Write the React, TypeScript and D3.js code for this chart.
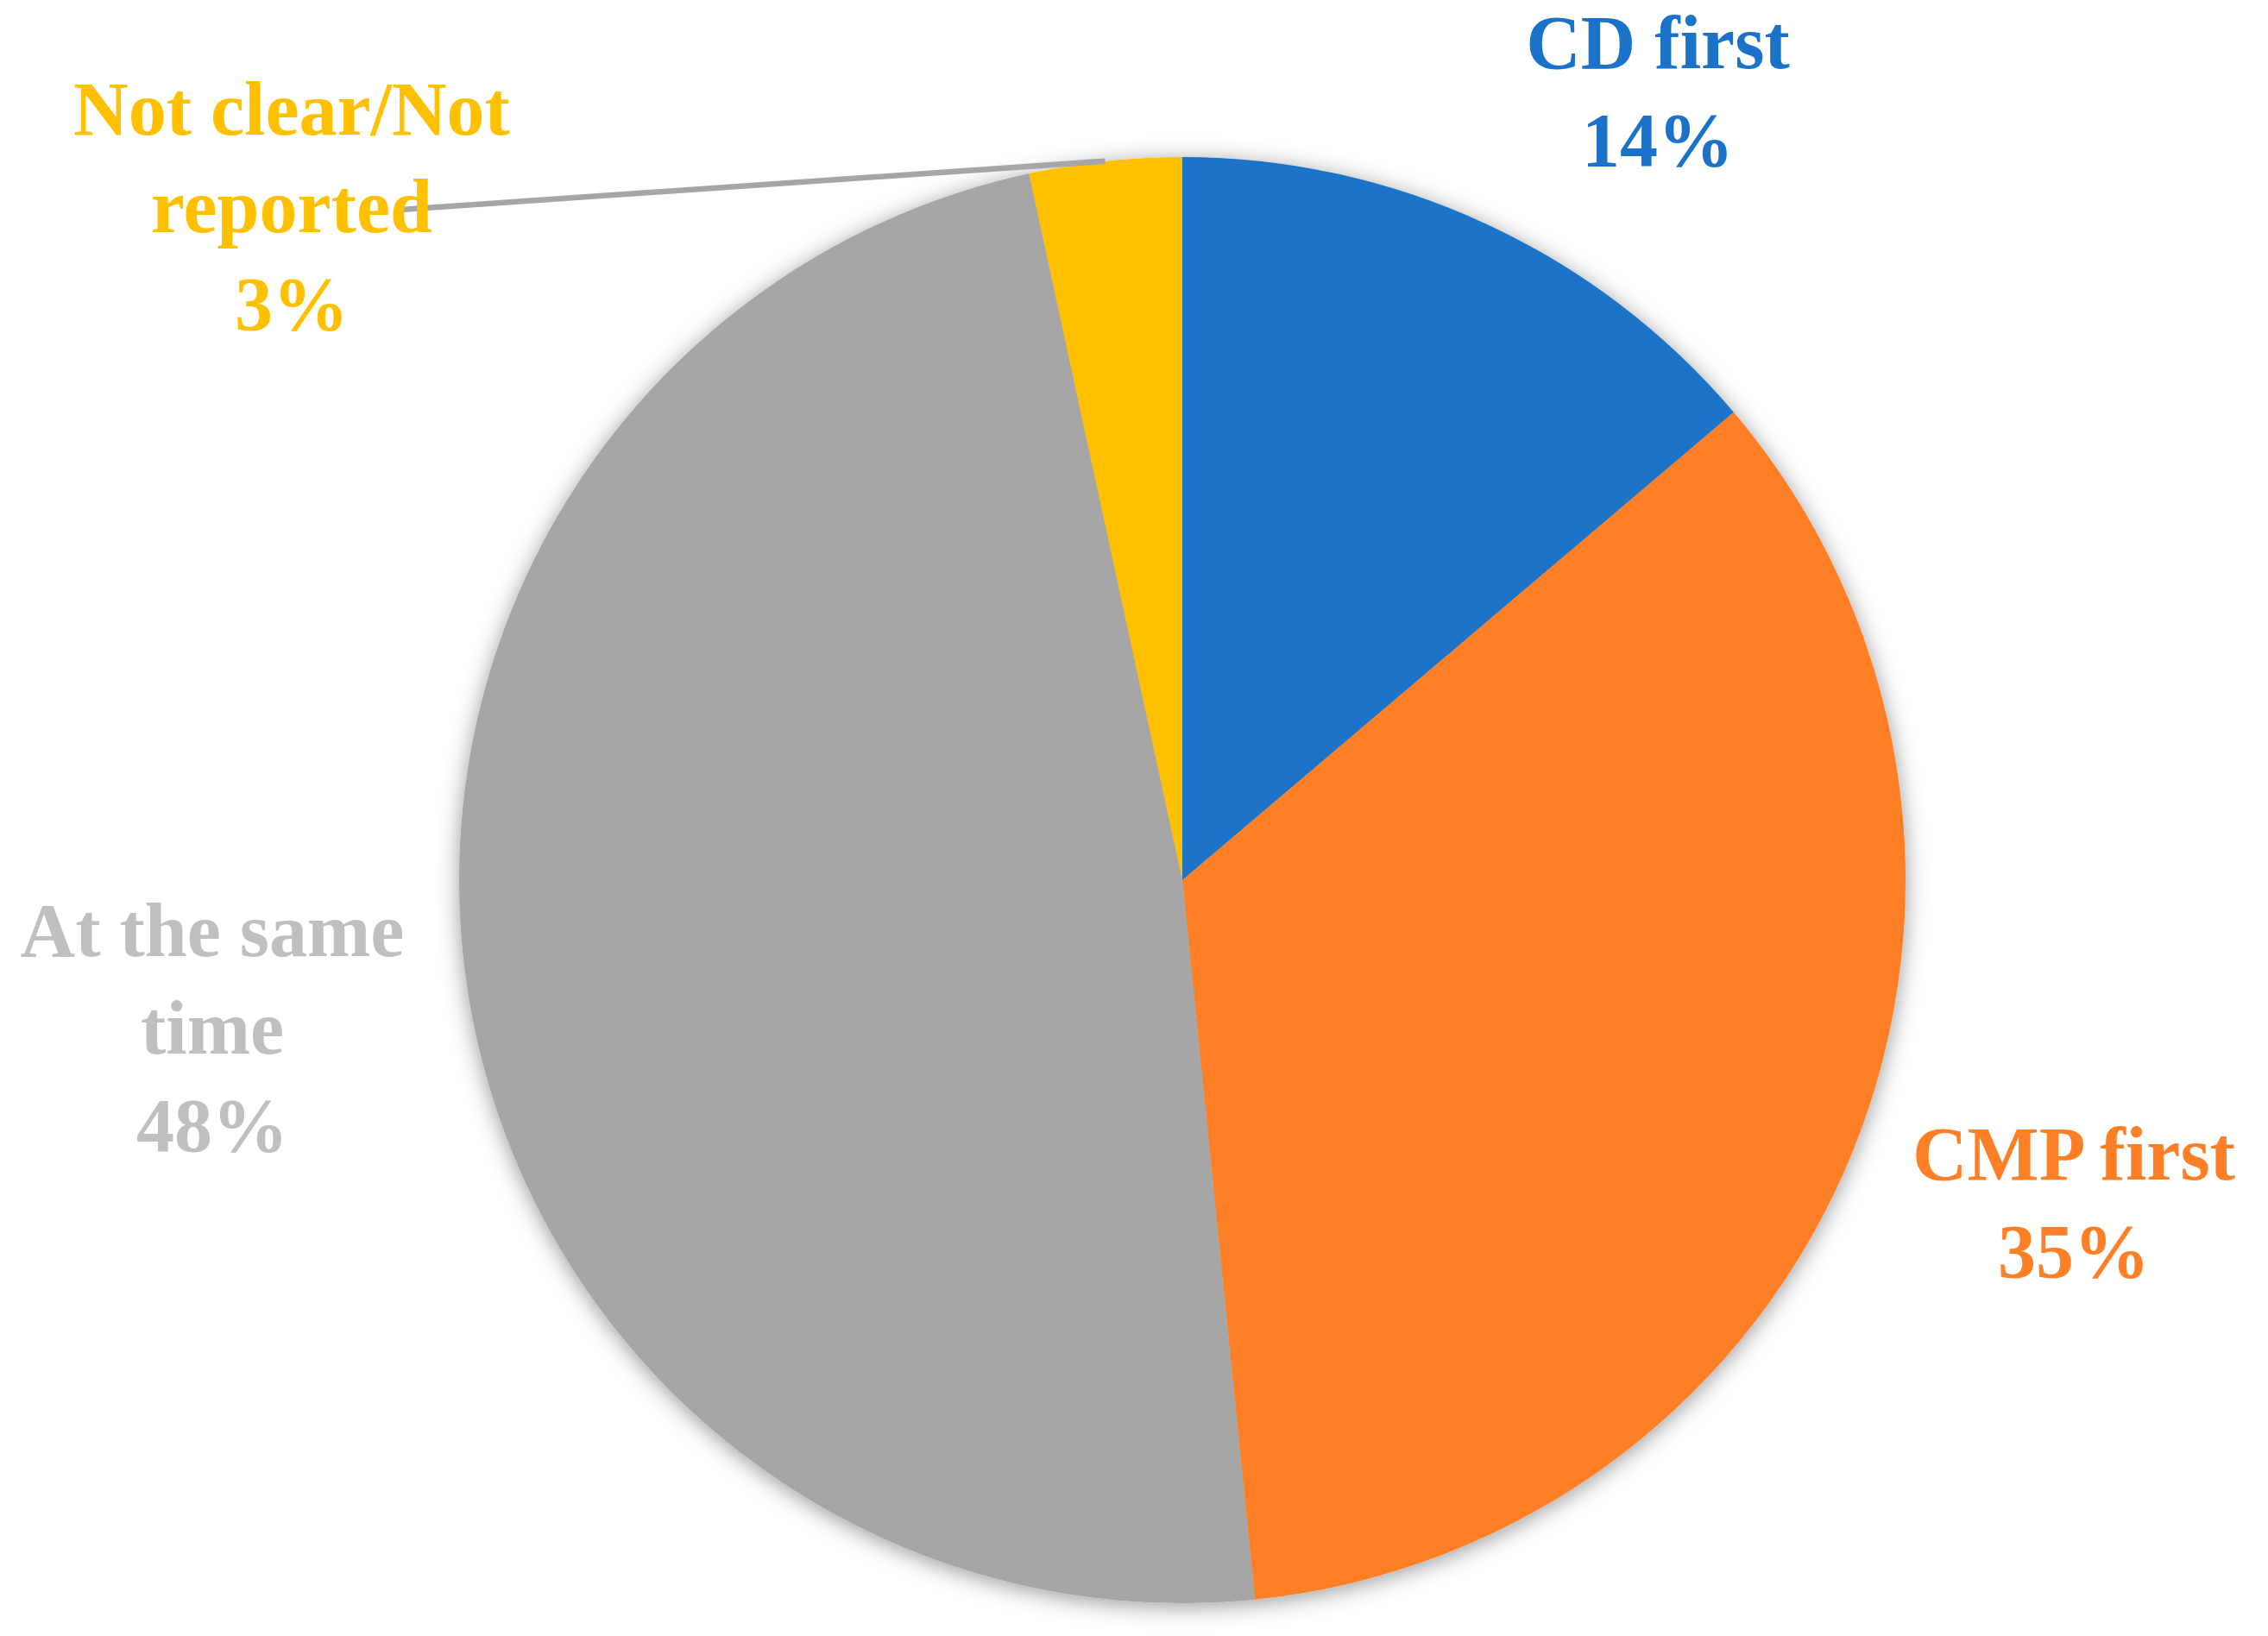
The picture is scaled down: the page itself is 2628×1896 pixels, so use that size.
import React from "react";
import * as d3 from "d3";

// Share of studies by treatment sequence (percent of all studies)
const categories = ["CD first", "CMP first", "At the same time", "Not clear/Not reported"];
const values = [13.8, 34.6, 48.2, 3.4];
const labelLines = [["CD first"], ["CMP first"], ["At the same", "time"], ["Not clear/Not", "reported"]];
const sliceColors = ["#1A73C8", "#FF7F27", "#A6A6A6", "#FFC000"];
const textColors = ["#1A73C8", "#FF7F27", "#BFBFBF", "#FFC000"];

const W = 2628;
const H = 1896;
const CX = 1370;
const CY = 1020;
const R = 838;
const LINE = 113;

// Label layout: horizontal centre and first baseline
const labelLayout = [
  { x: 1921, y: 79 },
  { x: 2403, y: 1367 },
  { x: 246, y: 1108 },
  { x: 338, y: 156 },
];
const leaderEnd = { x: 464, y: 243 };

const pct = d3.format(".0%");

export default function App() {
  const total = d3.sum(values);
  const pie = d3
    .pie<number>()
    .sort(null)
    .value((d) => d);
  const arcs = pie(values);
  const arc = d3.arc<d3.PieArcDatum<number>>().innerRadius(0).outerRadius(R);

  // Leader from the outer edge of the small slice to its label
  const small = arcs[3];
  const mid = (small.startAngle + small.endAngle) / 2;
  const lx = CX + R * Math.sin(mid);
  const ly = CY - R * Math.cos(mid);

  return (
    <svg
      width={W}
      height={H}
      viewBox={`0 0 ${W} ${H}`}
      style={{ position: "absolute", left: 0, top: 0, background: "#fff" }}
      fontFamily="'Liberation Serif', 'Times New Roman', serif"
    >
      <defs>
        <filter id="pieShadow" x="-10%" y="-10%" width="120%" height="120%">
          <feDropShadow dx="0" dy="4" stdDeviation="13" floodColor="#000" floodOpacity="0.4" />
        </filter>
      </defs>
      <rect width={W} height={H} fill="#fff" />
      <g transform={`translate(${CX},${CY})`} filter="url(#pieShadow)">
        {arcs.map((a, i) => (
          <path key={categories[i]} d={arc(a) || ""} fill={sliceColors[i]} />
        ))}
      </g>
      <line x1={lx} y1={ly} x2={leaderEnd.x} y2={leaderEnd.y} stroke="#A6A6A6" strokeWidth={6.5} />
      {labelLayout.map((L, i) => {
        const lines = [...labelLines[i], pct(values[i] / total)];
        return (
          <text
            key={categories[i]}
            fill={textColors[i]}
            fontSize={88}
            fontWeight={700}
            textAnchor="middle"
          >
            {lines.map((t, j) => (
              <tspan key={j} x={L.x} y={L.y + j * LINE}>
                {t}
              </tspan>
            ))}
          </text>
        );
      })}
    </svg>
  );
}
